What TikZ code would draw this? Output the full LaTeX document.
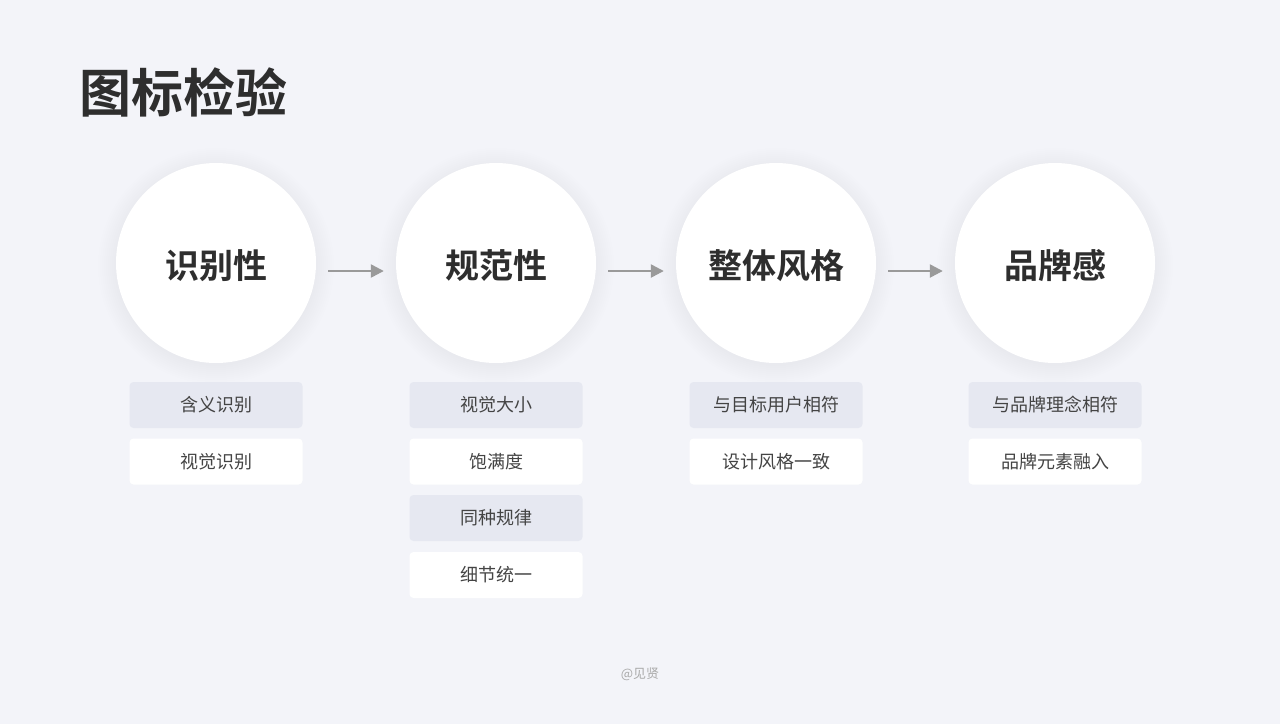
\documentclass[tikz,border=0pt]{standalone}
\usepackage{fontspec}
\newfontfamily\cjk{Noto Sans CJK SC}[BoldFont={Noto Sans CJK SC Bold}]
\usetikzlibrary{arrows.meta}
\definecolor{bgc}{HTML}{F3F4F9}
\definecolor{graybox}{HTML}{E6E8F1}
\definecolor{txtdark}{HTML}{2E2E2E}
\definecolor{txtmid}{HTML}{444444}
\definecolor{arrowc}{HTML}{9A9A9A}
\definecolor{footc}{HTML}{AAAAAA}
\tikzset{
  stage/.style={circle, fill=white, minimum size=200pt, inner sep=0pt,
    font=\cjk\bfseries\fontsize{34}{40}\selectfont, text=txtdark},
  itembox/.style={rounded corners=4pt, minimum width=173pt, minimum height=46pt,
    inner sep=0pt, font=\cjk\fontsize{18}{22}\selectfont, text=txtmid},
  itemgray/.style={itembox, fill=graybox},
  itemwhite/.style={itembox, fill=white},
  flow/.style={draw=arrowc, line width=2.4pt, -{Triangle[length=13pt,width=13pt]},
    shorten <=12pt, shorten >=12pt},
}
\newcommand{\glowcircle}[2]{%
  \foreach \r in {100,102,...,118}{\fill[black, opacity=0.0035] (#1,#2) circle (\r pt);}}
\begin{document}
\begin{tikzpicture}[x=1pt,y=-1pt]
\fill[bgc] (0,0) rectangle (1280,724);
\useasboundingbox (0,0) rectangle (1280,724);
\node[anchor=west, font=\cjk\bfseries\fontsize{52}{60}\selectfont, text=txtdark, inner sep=0pt] (title) at (79,92) {图标检验};
\glowcircle{216}{266}
\glowcircle{496}{266}
\glowcircle{776}{266}
\glowcircle{1055}{266}
\node[stage] (c1) at (216,263) {};
\node[stage] (c2) at (496,263) {};
\node[stage] (c3) at (776,263) {};
\node[stage] (c4) at (1055,263) {};
\node[font=\cjk\bfseries\fontsize{34}{40}\selectfont, text=txtdark] (t1) at (216,266) {识别性};
\node[font=\cjk\bfseries\fontsize{34}{40}\selectfont, text=txtdark] (t2) at (496,266) {规范性};
\node[font=\cjk\bfseries\fontsize{34}{40}\selectfont, text=txtdark] (t3) at (776,266) {整体风格};
\node[font=\cjk\bfseries\fontsize{34}{40}\selectfont, text=txtdark] (t4) at (1055,266) {品牌感};
\draw[flow] ([yshift=-8pt]c1.east) -- ([yshift=-8pt]c2.west);
\draw[flow] ([yshift=-8pt]c2.east) -- ([yshift=-8pt]c3.west);
\draw[flow] ([yshift=-8pt]c3.east) -- ([yshift=-8pt]c4.west);
\node[itemgray] (a1) at (216,405) {含义识别};
\node[itemwhite] (a2) at (216,461.5) {视觉识别};
\node[itemgray] (b1) at (496,405) {视觉大小};
\node[itemwhite] (b2) at (496,461.5) {饱满度};
\node[itemgray] (b3) at (496,518) {同种规律};
\node[itemwhite] (b4) at (496,575) {细节统一};
\node[itemgray] (d1) at (776,405) {与目标用户相符};
\node[itemwhite] (d2) at (776,461.5) {设计风格一致};
\node[itemgray] (e1) at (1055,405) {与品牌理念相符};
\node[itemwhite] (e2) at (1055,461.5) {品牌元素融入};
\node[font=\cjk\fontsize{13}{16}\selectfont, text=footc] (foot) at (640,674) {@见贤};
\end{tikzpicture}
\end{document}
